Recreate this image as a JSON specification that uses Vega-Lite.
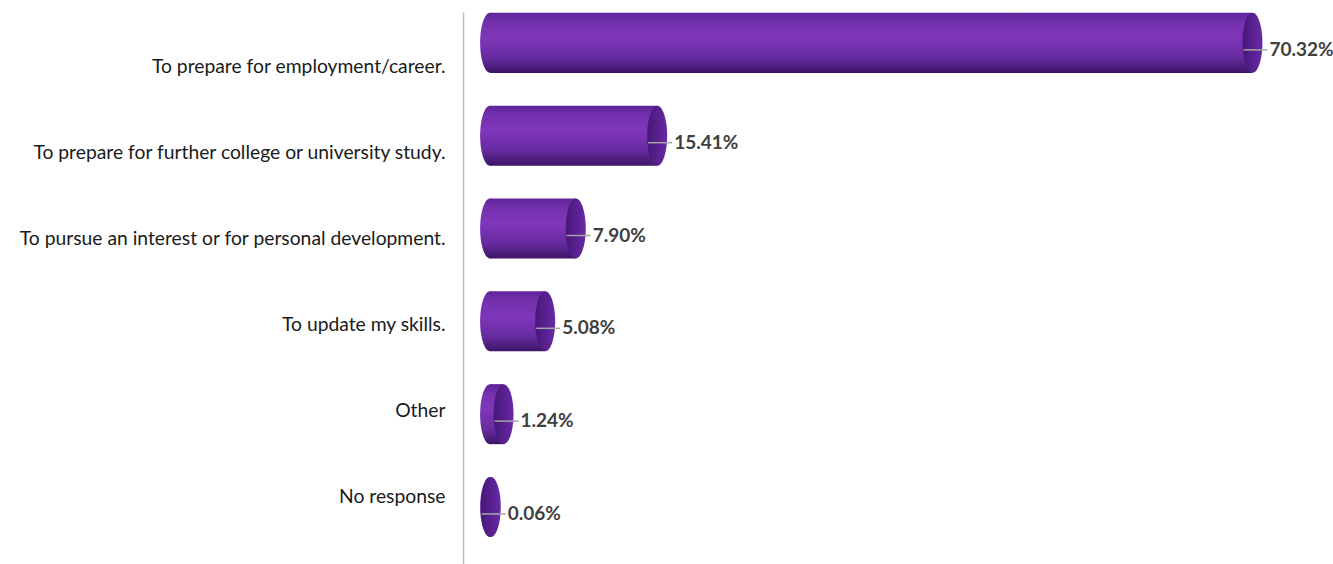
{
  "$schema": "https://vega.github.io/schema/vega-lite/v6.json",
  "autosize": "none",
  "width": 851,
  "height": 552,
  "padding": {"left": 463, "top": 12, "right": 19, "bottom": 0},
  "background": "white",
  "config": {"view": {"stroke": null}},
  "data": {"values": [
    {"cat": "To prepare for employment/career.", "value": 70.32, "label": "70.32%"},
    {"cat": "To prepare for further college or university study.", "value": 15.41, "label": "15.41%"},
    {"cat": "To pursue an interest or for personal development.", "value": 7.90, "label": "7.90%"},
    {"cat": "To update my skills.", "value": 5.08, "label": "5.08%"},
    {"cat": "Other", "value": 1.24, "label": "1.24%"},
    {"cat": "No response", "value": 0.06, "label": "0.06%"}
  ]},
  "layer": [
    {
      "encoding": {
        "y": {"field": "cat", "type": "nominal", "sort": null,
              "scale": {"type": "band", "paddingInner": 0.353, "paddingOuter": 0.15, "align": 0.03},
              "axis": null}
      },
      "layer": [
        {
          "mark": {"type": "point", "filled": true, "size": 3600, "opacity": 1,
                   "shape": "M0,-1C0.184,-1,0.333,-0.552,0.333,0C0.333,0.552,0.184,1,0,1C-0.184,1,-0.333,0.552,-0.333,0C-0.333,-0.552,-0.184,-1,0,-1Z",
                   "color": {"gradient": "linear", "x1": 0, "y1": 0, "x2": 0, "y2": 1,
                             "stops": [{"offset": 0, "color": "#5e2598"}, {"offset": 0.15, "color": "#7330ad"}, {"offset": 0.42, "color": "#8036ba"}, {"offset": 0.75, "color": "#672ba0"}, {"offset": 1, "color": "#3c1565"}]}},
          "encoding": {"x": {"datum": 0, "type": "quantitative", "scale": {"domain": [-2.5, 76], "nice": false, "zero": false}, "axis": null}}
        },
        {
          "mark": {"type": "bar",
                   "color": {"gradient": "linear", "x1": 0, "y1": 0, "x2": 0, "y2": 1,
                             "stops": [{"offset": 0, "color": "#5e2598"}, {"offset": 0.15, "color": "#7330ad"}, {"offset": 0.42, "color": "#8036ba"}, {"offset": 0.75, "color": "#672ba0"}, {"offset": 1, "color": "#3c1565"}]}},
          "encoding": {
            "x": {"field": "value", "type": "quantitative"},
            "x2": {"datum": 0}
          }
        },
        {
          "mark": {"type": "point", "filled": true, "size": 3600, "opacity": 1,
                   "shape": "M0,-1C0.184,-1,0.333,-0.552,0.333,0C0.333,0.552,0.184,1,0,1C-0.184,1,-0.333,0.552,-0.333,0C-0.333,-0.552,-0.184,-1,0,-1Z",
                   "color": {"gradient": "linear", "x1": 0, "y1": 0, "x2": 1, "y2": 0,
                             "stops": [{"offset": 0, "color": "#461877"}, {"offset": 0.5, "color": "#57208f"}, {"offset": 1, "color": "#6a29a5"}]}},
          "encoding": {"x": {"field": "value", "type": "quantitative"}}
        },
        {
          "mark": {"type": "rule", "color": "#a6a6a6", "strokeWidth": 1.5, "xOffset": -9, "x2Offset": 15, "yOffset": 7, "y2Offset": 7},
          "encoding": {
            "x": {"field": "value", "type": "quantitative"},
            "x2": {"field": "value"}
          }
        },
        {
          "mark": {"type": "text", "align": "left", "baseline": "middle", "dx": 17, "dy": 7,
                   "font": "Lato", "fontSize": 19, "fontWeight": "bold", "color": "#404040"},
          "encoding": {
            "x": {"field": "value", "type": "quantitative"},
            "text": {"field": "label"}
          }
        }
      ]
    },
    {
      "mark": {"type": "point", "opacity": 0},
      "encoding": {
        "x": {"datum": 0, "type": "quantitative"},
        "y": {"field": "cat", "type": "nominal", "sort": null,
              "scale": {"type": "band", "paddingInner": 0, "paddingOuter": 0.209, "align": 0.333},
              "axis": {"orient": "left", "title": null, "ticks": false, "tickSize": 0, "labelPadding": 18,
                       "domainColor": "#bfbfbf", "domainWidth": 1.5, "grid": false,
                       "labelFont": "Lato", "labelFontSize": 19.3, "labelColor": "#1a1a1a", "labelLimit": 600}}
      }
    }
  ],
  "resolve": {"scale": {"y": "independent"}, "axis": {"y": "independent"}}
}
